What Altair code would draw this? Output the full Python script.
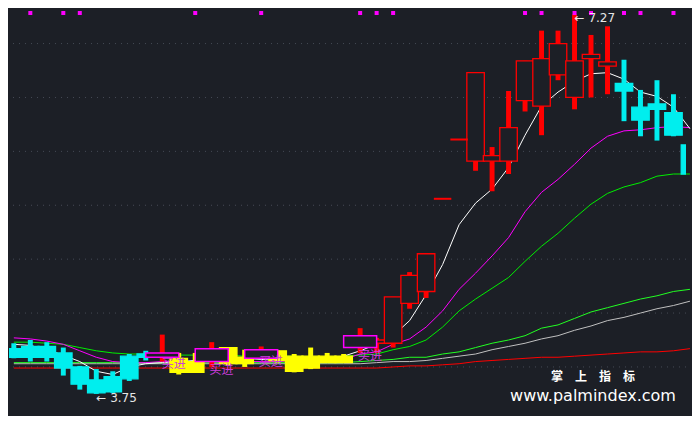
import altair as alt
import pandas as pd

BG = "#1c1f26"

# ---------------- data ----------------
idx = list(range(42))
kind = (["cyan"] * 9 + ["red"] + ["yellow"] * 2 + ["red"] + ["yellow"] * 2 + ["red"]
        + ["yellow"] * 5 + ["red"] * 5 + ["flat"] * 2 + ["red"] * 9 + ["cyan"] * 5)
open_ = [4.17, 4.19, 4.19, 4.13, 4.00, 3.88, 3.91, 3.89, 4.12, 4.10,
         4.08, 4.05, 4.08, 4.18, 4.09, 4.10, 4.15, 4.10, 4.10, 4.10,
         4.10, 4.21, 4.22, 4.22, 4.59, 4.70, 5.56, 6.11, 5.91, 5.91,
         5.91, 6.47, 6.42, 6.71, 6.50, 6.86, 6.79, 6.63, 6.41, 6.44,
         6.36, 6.06]
high = [4.22, 4.25, 4.23, 4.18, 4.01, 3.98, 3.96, 4.12, 4.15, 4.30,
        4.13, 4.13, 4.23, 4.18, 4.16, 4.19, 4.15, 4.12, 4.18, 4.13,
        4.12, 4.36, 4.27, 4.65, 4.88, 5.05, 5.56, 6.11, 6.73, 6.04,
        6.56, 6.84, 7.12, 7.12, 7.27, 7.08, 7.16, 6.85, 6.57, 6.66,
        6.53, 6.06]
low = [4.08, 4.05, 4.05, 3.92, 3.79, 3.75, 3.76, 3.87, 4.06, 4.05,
       3.93, 3.95, 4.00, 4.01, 4.00, 4.08, 4.04, 3.95, 3.98, 4.04,
       4.04, 4.13, 4.13, 4.18, 4.54, 4.64, 5.56, 6.11, 5.82, 5.63,
       5.79, 6.37, 6.15, 6.66, 6.39, 6.50, 6.53, 6.28, 6.14, 6.10,
       6.14, 5.79]
close = [4.09, 4.09, 4.09, 3.99, 3.84, 3.76, 3.77, 4.10, 4.09, 4.12,
         3.95, 3.95, 4.14, 4.03, 4.03, 4.14, 4.06, 3.96, 3.99, 4.04,
         4.04, 4.27, 4.25, 4.65, 4.85, 5.05, 5.56, 6.11, 6.73, 5.96,
         6.22, 6.84, 6.86, 7.00, 6.84, 6.90, 6.83, 6.56, 6.29, 6.39,
         6.15, 5.79]

ma_white = [4.21, 4.20, 4.16, 4.11, 4.05, 3.96, 3.93, 4.00, 4.03, 4.04,
            4.05, 4.06, 4.07, 4.08, 4.08, 4.07, 4.06, 4.06, 4.06, 4.07,
            4.10, 4.15, 4.21, 4.29, 4.43, 4.67, 4.95, 5.32, 5.52, 5.65,
            5.85, 6.15, 6.42, 6.55, 6.65, 6.72, 6.73, 6.67, 6.55, 6.51,
            6.41, 6.21]
ma_magenta = [4.27, 4.26, 4.24, 4.21, 4.15, 4.09, 4.05, 4.04, 4.04, 4.05,
              4.05, 4.05, 4.05, 4.05, 4.05, 4.05, 4.05, 4.06, 4.06, 4.06,
              4.07, 4.12, 4.14, 4.21, 4.26, 4.37, 4.52, 4.72, 4.87, 5.03,
              5.20, 5.44, 5.62, 5.74, 5.88, 6.03, 6.14, 6.19, 6.20, 6.22,
              6.23, 6.22]
ma_green = [4.23, 4.23, 4.22, 4.21, 4.18, 4.15, 4.13, 4.12, 4.12, 4.12,
            4.11, 4.11, 4.11, 4.11, 4.10, 4.10, 4.10, 4.10, 4.09, 4.09,
            4.10, 4.11, 4.12, 4.16, 4.19, 4.25, 4.37, 4.52, 4.63, 4.73,
            4.83, 4.98, 5.12, 5.24, 5.38, 5.51, 5.61, 5.67, 5.71, 5.77,
            5.79, 5.79]
ma_lime = [4.04] * 21 + [4.05, 4.06, 4.07, 4.09, 4.09, 4.12, 4.14, 4.18, 4.22,
                         4.25, 4.29, 4.36, 4.39, 4.45, 4.51, 4.55, 4.59, 4.63,
                         4.66, 4.70, 4.72]
ma_grey = [4.03] * 21 + [4.03, 4.04, 4.05, 4.05, 4.06, 4.08, 4.10, 4.12, 4.16,
                         4.19, 4.22, 4.26, 4.29, 4.34, 4.38, 4.43, 4.46, 4.50,
                         4.54, 4.57, 4.61]
ma_red = [3.99] * 23 + [4.00, 4.01, 4.01, 4.02, 4.03, 4.05, 4.06, 4.07, 4.08,
                        4.09, 4.09, 4.10, 4.11, 4.12, 4.13, 4.14, 4.14, 4.15,
                        4.17]

signal_idx = [1, 3, 4, 11, 15, 21, 22, 23, 31, 32, 34, 35, 37, 38, 40]
box_start = [8, 11, 14, 20]
box_end = [10, 13, 16, 22]
box_top = [4.13, 4.17, 4.16, 4.29]
box_bottom = [4.09, 4.05, 4.08, 4.18]
buy_pos = [9.7, 12.6, 15.6, 21.6]
buy_price = [4.03, 3.97, 4.05, 4.10]
buy_text = ["买进"] * 4
grid_prices = [4.0, 4.5, 5.0, 5.5, 6.0, 6.5, 7.0]
extreme_idx = [34, 5]
extreme_price = [7.27, 3.75]
extreme_text = ["← 7.27", "← 3.75"]
brand = ["掌\u2003上\u2003指\u2003标", "www.palmindex.com"]

# ---------------- frames ----------------
stroke_map = {"red": "#ff0000", "cyan": "#00eeee", "yellow": "#ffff00", "flat": "#ff0000"}
fill_map = {"red": BG, "cyan": "#00eeee", "yellow": "#ffff00", "flat": BG}

df = pd.DataFrame({"i": idx, "kind": kind, "open": open_, "high": high,
                   "low": low, "close": close})
df["top"] = df[["open", "close"]].max(axis=1)
df["bot"] = df[["open", "close"]].min(axis=1)
df["x0"] = df["i"] - 0.53
df["x1"] = df["i"] + 0.53
df["w0"] = df["i"] - 0.15
df["w1"] = df["i"] + 0.15
df["sc"] = df["kind"].map(stroke_map)
df["fc"] = df["kind"].map(fill_map)
candles = df[df["kind"] != "flat"]
flats = df[df["kind"] == "flat"]

series = [("red", ma_red, "#ff0000"), ("grey", ma_grey, "#c0c0c0"),
          ("lime", ma_lime, "#22ff22"), ("green", ma_green, "#00ee00"),
          ("magenta", ma_magenta, "#ff00ff"), ("white", ma_white, "#ffffff")]
lines = pd.DataFrame([{"i": i, "v": v, "s": name}
                      for name, vals, _ in series for i, v in zip(idx, vals)])

xs = alt.Scale(domain=[-0.293, 40.76], nice=False, zero=False)
ys = alt.Scale(domain=[3.545, 7.330], nice=False, zero=False)

grid = alt.Chart(pd.DataFrame({"p": grid_prices})).mark_rule(
    color="#454a55", strokeDash=[1, 5], strokeWidth=1
).encode(y=alt.Y("p:Q", scale=ys, axis=None))

line_layers = []
for name, vals, col in series:
    sub = lines[lines["s"] == name]
    line_layers.append(
        alt.Chart(sub).mark_line(strokeWidth=1, color=col).encode(
            x=alt.X("i:Q", scale=xs, axis=None),
            y=alt.Y("v:Q", scale=ys, axis=None)))

wicks = alt.Chart(candles).mark_rect(clip=True).encode(
    x=alt.X("w0:Q", scale=xs, axis=None), x2="w1:Q",
    y=alt.Y("low:Q", scale=ys, axis=None), y2="high:Q",
    color=alt.Color("sc:N", scale=None))

bodies = alt.Chart(candles).mark_rect(strokeWidth=1.3, clip=True).encode(
    x=alt.X("x0:Q", scale=xs, axis=None), x2="x1:Q",
    y=alt.Y("bot:Q", scale=ys, axis=None), y2="top:Q",
    fill=alt.Fill("fc:N", scale=None),
    stroke=alt.Stroke("sc:N", scale=None))

flat_marks = alt.Chart(flats).mark_rule(strokeWidth=2, color="#ff0000").encode(
    x=alt.X("x0:Q", scale=xs, axis=None), x2="x1:Q",
    y=alt.Y("open:Q", scale=ys, axis=None))

boxes = alt.Chart(pd.DataFrame({"a": box_start, "b": box_end, "t": box_top,
                                "u": box_bottom})).mark_rect(
    fill=BG, stroke="#ff00ff", strokeWidth=1.5).encode(
    x=alt.X("a:Q", scale=xs, axis=None), x2="b:Q",
    y=alt.Y("u:Q", scale=ys, axis=None), y2="t:Q")

buys = alt.Chart(pd.DataFrame({"x": buy_pos, "p": buy_price, "t": buy_text})).mark_text(
    font="Noto Sans CJK SC", fontSize=12, color="#cc3ddd", baseline="middle"
).encode(x=alt.X("x:Q", scale=xs, axis=None),
         y=alt.Y("p:Q", scale=ys, axis=None), text="t:N")

dots = alt.Chart(pd.DataFrame({"i": signal_idx})).mark_square(
    size=16, color="#ff00ff", opacity=1).encode(
    x=alt.X("i:Q", scale=xs, axis=None), y=alt.value(5))

extremes = alt.Chart(pd.DataFrame({"i": extreme_idx, "p": extreme_price,
                                   "t": extreme_text})).mark_text(
    font="DejaVu Sans", fontSize=12, color="#e6e6e6", align="left",
    baseline="middle", dy=4).encode(
    x=alt.X("i:Q", scale=xs, axis=None),
    y=alt.Y("p:Q", scale=ys, axis=None), text="t:N")

brand1 = alt.Chart(pd.DataFrame({"t": [brand[0]]})).mark_text(
    font="Noto Sans CJK SC", fontSize=12, fontWeight="bold", color="#ffffff",
    align="center", baseline="middle").encode(
    x=alt.value(584), y=alt.value(369), text="t:N")
brand2 = alt.Chart(pd.DataFrame({"t": [brand[1]]})).mark_text(
    font="DejaVu Sans", fontSize=16, color="#ffffff",
    align="center", baseline="middle").encode(
    x=alt.value(584), y=alt.value(388), text="t:N")

chart = alt.layer(grid, *line_layers, wicks, bodies, flat_marks, boxes, buys,
                  dots, extremes, brand1, brand2).properties(
    width=684, height=408,
    autosize=alt.AutoSizeParams(type="fit", contains="padding"),
    padding=0, background=BG
).configure_view(stroke=None)

chart.save("out.html", embed_options={"renderer": "svg", "actions": False})
